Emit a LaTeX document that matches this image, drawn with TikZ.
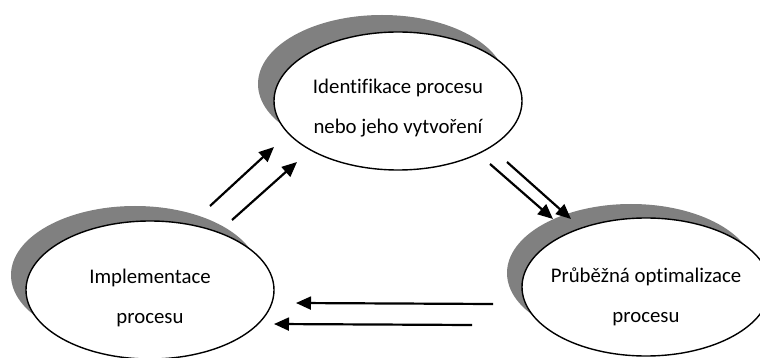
\documentclass[tikz,border=0pt]{standalone}
\usepackage{fontspec}
\setmainfont[Ligatures=NoCommon]{Carlito}
\usetikzlibrary{arrows.meta,shapes.geometric}
\begin{document}
\begin{tikzpicture}[x=1pt,y=-1pt,
  shadowell/.style={ellipse,fill=shadowgray,draw=none,minimum width=248pt,minimum height=138pt,inner sep=0pt},
  mainell/.style={ellipse,fill=white,draw=black,line width=1.4pt,minimum width=248pt,minimum height=138pt,inner sep=0pt},
  lbl/.style={anchor=base,inner sep=0pt,font=\fontsize{20.8}{24}\selectfont},
  arr/.style={line width=2.2pt,-{Triangle[length=15pt,width=13pt]}}]
\definecolor{shadowgray}{RGB}{128,128,128}
\useasboundingbox (0,0) rectangle (760,358);
% top ellipse
\node[shadowell] (topS) at (382,84) {};
\node[mainell] (topE) at (398,101) {};
\node[lbl] (topL1) at (398,94) {Identifikace procesu};
\node[lbl] (topL2) at (398,134) {nebo jeho vytvoření};
% left ellipse
\node[shadowell] (leftS) at (135,275) {};
\node[mainell] (leftE) at (150,290) {};
\node[lbl] (leftL1) at (150,283) {Implementace};
\node[lbl] (leftL2) at (150,323) {procesu};
% right ellipse
\node[shadowell] (rightS) at (631,273) {};
\node[mainell] (rightE) at (646,287) {};
\node[lbl] (rightL1) at (646,282) {Průběžná optimalizace};
\node[lbl] (rightL2) at (646,322) {procesu};
% arrow endpoints
\coordinate (a1s) at (210,206); \coordinate (a1e) at (274,147);
\coordinate (a2s) at (232,220); \coordinate (a2e) at (297,162);
\coordinate (b1s) at (490,164); \coordinate (b1e) at (553,219);
\coordinate (b2s) at (507,162); \coordinate (b2e) at (571,219);
\coordinate (c1s) at (493,304); \coordinate (c1e) at (296,303);
\coordinate (c2s) at (472,325); \coordinate (c2e) at (274,324);
\draw[arr] (a1s) -- (a1e);
\draw[arr] (a2s) -- (a2e);
\draw[arr] (b1s) -- (b1e);
\draw[arr] (b2s) -- (b2e);
\draw[arr] (c1s) -- (c1e);
\draw[arr] (c2s) -- (c2e);
\end{tikzpicture}
\end{document}
